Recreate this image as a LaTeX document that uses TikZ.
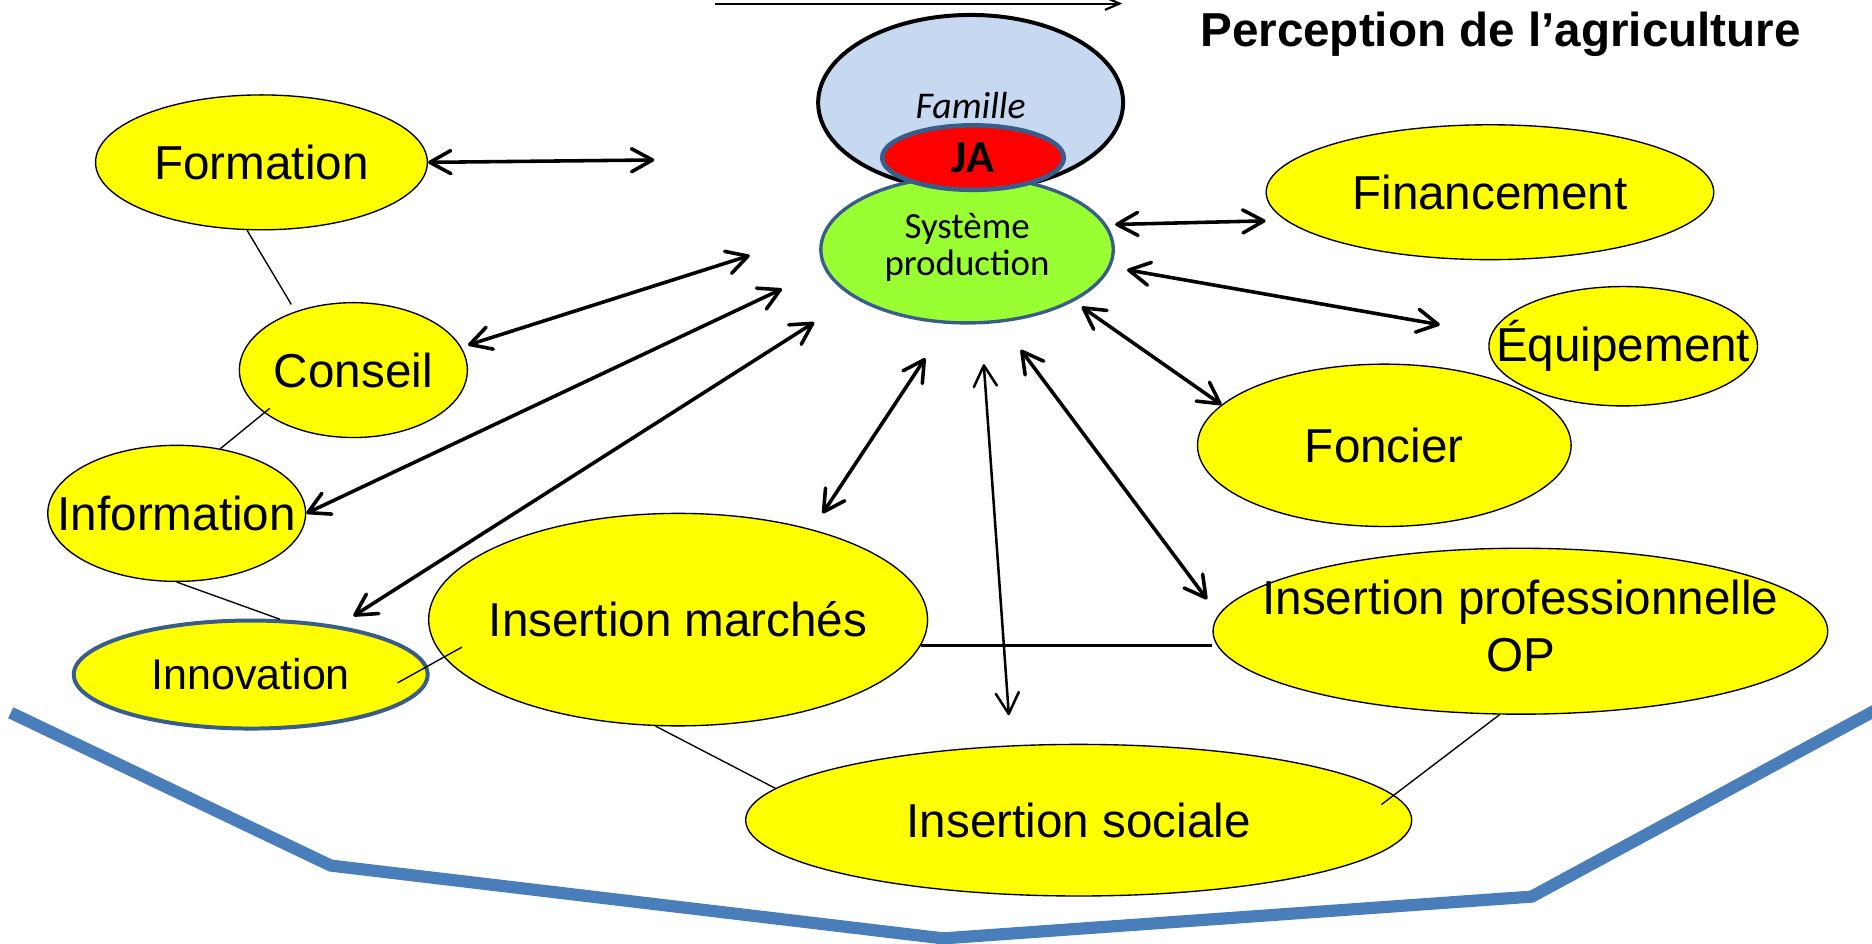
\documentclass[tikz,border=0pt]{standalone}
\usepackage{fontspec}
\setmainfont{Liberation Sans}
\newfontfamily\calibri{Carlito}
\usepackage{tikz}
\usetikzlibrary{shapes.geometric, arrows.meta}
\definecolor{jaune}{RGB}{255,255,0}
\definecolor{bleuciel}{RGB}{198,217,241}
\definecolor{vertpomme}{RGB}{153,255,51}
\definecolor{bleubord}{RGB}{56,93,138}
\definecolor{bleutrait}{RGB}{74,126,187}

\begin{document}
\begin{tikzpicture}[x=0.02cm, y=-0.02cm, >={Straight Barb[length=10pt,width=11pt,round]},
  bulle/.style={ellipse, draw, fill=jaune, line width=0.65pt, inner sep=0pt, font=\fontsize{22.7}{27.3}\selectfont},
  fleche/.style={<->, line width=1.7pt},
  lien/.style={line width=0.65pt}]
\useasboundingbox (0,0) rectangle (1568,790);

% rebord bleu
\draw[bleutrait, line width=5.8pt] (9,597) -- (277,725) -- (790,786) -- (1283,751) -- (1580,590);

% famille, JA, systeme
\node[ellipse, draw, line width=1.9pt, fill=bleuciel, minimum width=5.11cm, minimum height=2.94cm] (famille) at (813,86) {};
\node[anchor=base, font=\calibri\itshape\fontsize{18}{21}\selectfont] (famtexte) at (813,99) {Famille};
\node[ellipse, draw=bleubord, line width=1.6pt, fill=vertpomme, minimum width=4.9cm, minimum height=2.46cm, inner sep=0pt, font=\calibri\fontsize{17.6}{17.8}\selectfont] (systeme) at (810,209) {\makebox[0pt]{\begin{tabular}{@{}c@{}}Système\\production\end{tabular}}};
\node[ellipse, draw=bleubord, line width=2.2pt, fill=red, minimum width=3.04cm, minimum height=1.08cm, inner sep=0pt, font=\calibri\bfseries\fontsize{22}{26}\selectfont] (ja) at (815,132) {JA};

\node[anchor=base west, inner sep=0pt, font=\bfseries\fontsize{22.7}{27}\selectfont] (titre) at (1005,39) {Perception de l’agriculture};

% bulles
\node[bulle, minimum width=5.56cm, minimum height=2.26cm] (formation) at (219,136) {\makebox[0pt]{Formation}};
\node[bulle, minimum width=3.82cm, minimum height=2.26cm] (conseil) at (296,310) {\makebox[0pt]{Conseil}};
\node[bulle, minimum width=4.32cm, minimum height=2.28cm] (information) at (148,430) {\makebox[0pt]{Information}};
\node[bulle, draw=bleubord, line width=1.9pt, minimum width=5.93cm, minimum height=1.81cm, font=\fontsize{20.5}{24}\selectfont] (innovation) at (210,565) {\makebox[0pt]{Innovation}};
\node[bulle, minimum width=8.36cm, minimum height=3.56cm] (marches) at (568,519) {\makebox[0pt]{Insertion marchés}};
\node[bulle, minimum width=11.16cm, minimum height=2.54cm] (sociale) at (903.5,687) {\makebox[0pt]{Insertion sociale}};
\node[bulle, minimum width=10.3cm, minimum height=2.78cm] (profop) at (1273.5,528.7) {\makebox[0pt]{\begin{tabular}{@{}c@{}}Insertion professionnelle\\OP\end{tabular}}};
\node[bulle, minimum width=6.26cm, minimum height=2.72cm] (foncier) at (1159.5,373) {\makebox[0pt]{Foncier}};
\node[bulle, minimum width=4.5cm, minimum height=2cm] (equipement) at (1359.6,290) {\makebox[0pt]{Équipement}};
\node[bulle, minimum width=7.5cm, minimum height=2.26cm] (financement) at (1248,161) {\makebox[0pt]{Financement}};

% bouts libres
\coordinate (f1) at (548,134);
\coordinate (c0) at (392,289);
\coordinate (c1) at (628,214);
\coordinate (i1) at (655,242);
\coordinate (n1) at (296,516);
\coordinate (n2) at (682,270);
\coordinate (m1) at (689,430);
\coordinate (m2) at (775,300);
\coordinate (s1) at (824,305);
\coordinate (s2) at (845,599);
\coordinate (p1) at (855,293);
\coordinate (p2) at (1011,502);
\coordinate (q1) at (906,257);
\coordinate (e1) at (944,226);
\coordinate (e2) at (1206,272);
\coordinate (y1) at (934,188);
\coordinate (y2) at (1060,185);
\coordinate (t1) at (599,3);
\coordinate (t2) at (940,3);
\coordinate (k1) at (333,572);
\coordinate (k2) at (387,542);
\coordinate (k3) at (1157,674);
\coordinate (k4) at (226,342);
\coordinate (k5) at (244,255);
\coordinate (h1) at (marches.-6);

% liens
\draw[lien] (formation.258) -- (k5);
\draw[lien] (k4) -- (information.56);
\draw[lien] (information.south) -- (innovation.62);
\draw[lien] (k1) -- (k2);
\draw[line width=1.3pt] (h1) -- (h1 -| profop.west);
\draw[lien] (marches.258) -- (sociale.174);
\draw[lien] (profop.256) -- (k3);

% fleches
\draw[fleche] (formation.east) -- (f1);
\draw[fleche] (c0) -- (c1);
\draw[fleche] (information.east) -- (i1);
\draw[fleche] (n1) -- (n2);
\draw[fleche] (m1) -- (m2);
\draw[fleche, line width=1.2pt] (s1) -- (s2);
\draw[fleche] (p1) -- (p2);
\draw[fleche] (q1) -- (foncier.166);
\draw[fleche] (e1) -- (e2);
\draw[fleche] (y1) -- (y2);
\draw[-{Straight Barb[length=7pt,width=6pt]}, line width=1pt] (t1) -- (t2);
\end{tikzpicture}
\end{document}
